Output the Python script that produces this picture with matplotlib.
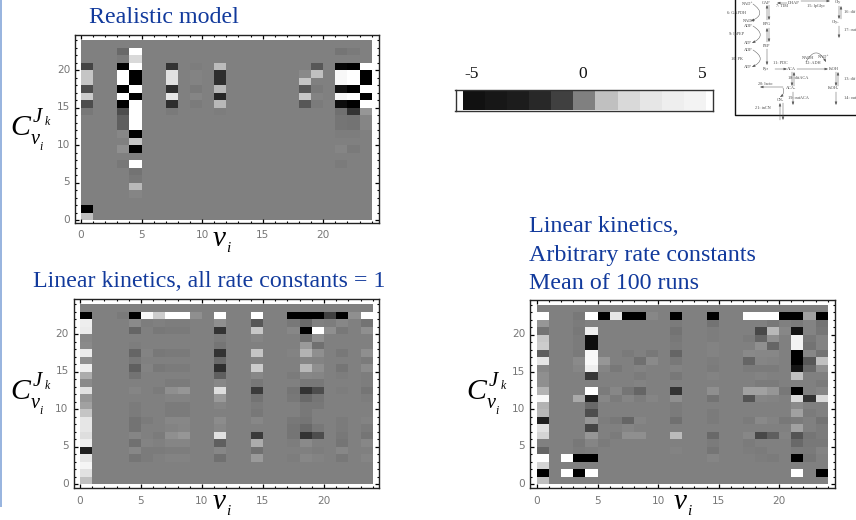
import numpy as np
import matplotlib
matplotlib.use("Agg")
import matplotlib.pyplot as plt
from matplotlib.colors import LinearSegmentedColormap
from matplotlib.ticker import MultipleLocator
from matplotlib.transforms import ScaledTranslation

W, H = 856, 520
SERIF = "Liberation Serif"
TITLE_C = "#123a9c"
N = 24

# Gray level of each non-neutral cell: {column: {row: gray}}; all other cells are 0.5
realistic = {
    0: {0: .75, 1: 0, 14: .45, 15: .3, 16: .8, 17: .3, 18: .77, 19: .77, 20: .27},
    3: {22: .38, 21: .47, 20: 0, 19: 1, 18: 1, 17: 0, 16: 1, 15: 0, 14: .3, 13: .35, 12: .35, 11: .55, 9: .6, 7: .45},
    4: {22: 1, 21: .85, 20: 1, 19: 0, 18: 0, 17: 1, 16: 0, 15: 1, 14: 1, 13: 1, 12: 1, 11: 0, 10: .77, 9: 0, 7: 1, 6: .42, 5: .45, 4: .72, 3: .53},
    7: {20: .2, 19: .88, 18: .88, 17: .18, 16: .9, 15: .18, 14: .46},
    9: {20: .48, 19: .52, 18: .52, 17: .46, 16: .53, 15: .47},
    11: {20: .73, 19: .18, 18: .18, 17: .72, 16: .15, 15: .72, 14: .48},
    18: {20: .5, 19: .56, 18: .77, 17: .33, 16: .78, 15: .33},
    19: {20: .33, 19: .75, 18: .5, 17: .46, 16: .52, 15: .47},
    21: {22: .43, 20: .02, 19: .97, 18: .97, 17: .07, 16: .97, 15: .05, 14: .4, 13: .43, 12: .43, 11: .48, 9: .53, 7: .47},
    22: {22: .46, 20: 0, 19: 1, 18: 1, 17: 0, 16: 1, 15: 0, 14: .2, 13: .42, 12: .42, 11: .48, 9: .46},
    23: {20: 1, 19: 0, 18: 0, 17: 1, 16: 0, 15: 1, 14: .62, 13: .53, 12: .53},
}

unit_rates = {
    0: {0: .75, 1: .88, 2: .96, 3: .9, 4: .12, 5: .93, 6: .87, 7: .9, 8: .9, 9: .77, 10: .65, 11: .62, 12: .88, 13: .57, 14: .68, 15: .93, 16: .6, 17: .92, 18: .57, 19: .55, 20: .92, 21: .93, 22: 0},
    3: {22: .46},
    4: {22: 0, 21: .57, 20: .37, 18: .48, 17: .37, 16: .45, 15: .35, 14: .42, 12: .53, 10: .47, 9: .47, 8: .42, 7: .42, 6: .53, 5: .4, 4: .55, 3: .43},
    5: {22: .97, 21: .48, 17: .52, 15: .52, 8: .47, 5: .52, 4: .47, 3: .47},
    6: {22: .8, 20: .45, 17: .45, 15: .45, 12: .47, 6: .47, 4: .47},
    7: {22: 1, 21: .48, 20: .46, 17: .46, 15: .47, 13: .47, 12: .6, 11: .52, 10: .47, 9: .47, 8: .55, 7: .52, 6: .6, 5: .53, 4: .48, 3: .52},
    8: {22: 1, 21: .48, 20: .46, 17: .46, 15: .47, 13: .47, 12: .62, 11: .52, 10: .47, 9: .47, 8: .55, 7: .54, 6: .62, 5: .53, 4: .48, 3: .52},
    9: {22: .6},
    11: {22: 1, 21: .6, 20: .2, 19: .47, 18: .43, 17: .2, 16: .38, 15: .18, 14: .35, 13: .55, 12: .87, 11: .63, 10: .53, 8: .58, 7: .55, 6: .88, 5: .35, 4: .55, 3: .4},
    14: {22: 1, 21: .33, 20: .78, 19: .53, 17: .77, 16: .52, 15: .8, 14: .55, 13: .45, 12: .23, 11: .42, 10: .47, 9: .45, 8: .55, 6: .23, 5: .68, 4: .4, 3: .63},
    17: {22: 0, 21: .45, 20: .55, 17: .52, 14: .47, 12: .43, 11: .45, 8: .45, 7: .43, 6: .43, 5: .48, 3: .48},
    18: {22: 0, 21: .38, 20: 0, 19: .4, 18: .63, 17: .7, 16: .53, 15: .72, 14: .55, 13: .45, 12: .2, 11: .38, 10: .45, 9: .45, 8: .43, 7: .38, 6: .2, 5: .57, 3: .55},
    19: {22: 0, 21: .5, 20: 1, 19: .6, 18: .4, 17: .6, 16: .52, 15: .6, 14: .53, 13: .45, 12: .3, 11: .43, 10: .45, 7: .45, 6: .3, 4: .48, 3: .52},
    20: {22: .25, 21: .48, 20: .6},
    21: {22: 0, 21: .55, 20: .45, 17: .45, 15: .43, 14: .48, 12: .48, 8: .47, 7: .47, 6: .45, 5: .43, 4: .55, 3: .45},
    22: {22: .6},
    23: {22: 1, 21: .42, 20: .6, 17: .6, 16: .47, 15: .58, 14: .48, 13: .48, 12: .43, 11: .48, 8: .52, 7: .47, 6: .43, 5: .55, 3: .53},
}

mean_runs = {
    0: {0: .75, 1: 0, 2: .83, 3: 1, 4: .37, 6: .83, 7: .88, 8: .12, 9: .72, 10: .7, 11: .97, 12: .7, 13: .6, 14: .6, 15: .55, 16: .9, 17: .35, 18: .8, 19: .78, 20: .42, 21: .62, 22: 1},
    2: {1: 1, 3: 1},
    3: {1: 0, 3: 0, 4: .47, 5: .45, 11: .67, 15: .54, 16: .57, 17: .46, 18: .47, 19: .47, 20: .45, 21: .47, 22: .45},
    4: {22: 1, 20: .93, 19: .05, 18: .05, 17: .97, 16: .97, 15: .93, 14: .22, 12: 1, 11: .12, 10: .38, 9: .3, 8: .62, 7: .27, 6: .62, 5: .53, 4: .48, 3: 0, 1: 1},
    5: {22: 0, 16: .62, 15: .53, 12: .47, 11: .55, 8: .48, 5: .47},
    6: {22: .9, 15: .45, 12: .55, 11: .47, 8: .45, 6: .47},
    7: {22: 0, 17: .46, 12: .43, 11: .53, 8: .37, 7: .53, 6: .6},
    8: {22: 0, 16: .4, 15: .52, 14: .47, 13: .52, 12: .37, 11: .48, 8: .53, 6: .6},
    9: {22: .55, 17: .45, 16: .57, 11: .53},
    11: {22: 0, 21: .47, 20: .42, 19: .45, 18: .47, 17: .37, 16: .45, 15: .52, 14: .45, 12: .2, 11: .6, 10: .47, 9: .47, 8: .4, 6: .73, 4: .52},
    14: {22: 0, 21: .42, 20: .48, 19: .48, 18: .52, 17: .52, 16: .48, 15: .47, 14: .52, 12: .6, 11: .42, 9: .47, 8: .47, 6: .38, 5: .47, 4: .43, 3: .53},
    17: {22: 1, 19: .47, 17: .56, 16: .37, 15: .47, 12: .65, 11: .32, 8: .47, 6: .55, 5: .47, 4: .48},
    18: {22: 1, 20: .28, 19: .37, 18: .6, 17: .55, 16: .53, 15: .47, 14: .52, 13: .47, 12: .65, 11: .53, 8: .56, 6: .28, 4: .47, 3: .48},
    19: {22: 1, 21: .45, 20: .72, 19: .6, 18: .37, 17: .55, 16: .52, 15: .47, 13: .47, 12: .62, 11: .52, 8: .52, 6: .35, 3: .47},
    20: {22: 0, 20: .55, 12: .45, 8: .45, 6: .52},
    21: {22: 0, 21: .47, 20: .08, 19: .95, 18: .95, 17: 0, 16: 0, 15: .08, 14: .75, 12: 0, 11: .85, 10: .57, 9: .65, 8: .47, 7: .65, 6: .32, 5: .38, 4: .47, 3: 0, 1: 1},
    22: {22: .65, 21: .52, 20: .52, 19: .45, 18: .42, 17: .55, 16: .33, 15: .38, 11: .2, 9: .47, 6: .43, 5: .45, 4: .46, 3: .44},
    23: {22: 0, 21: .42, 20: .44, 19: .52, 18: .52, 17: .42, 16: .75, 15: .6, 13: .46, 12: .53, 11: .85, 8: .42, 7: .47, 6: .47, 5: .45, 4: .52, 1: 0},
}

# Scale of the control coefficient legend
scale_values = [-5, -4, -3, -2, -1, 0, 1, 2, 3, 4, 5]
scale_gray = [.07, .09, .11, .16, .25, .5, .75, .85, .9, .93, .95]
scale_labels = ["-5", "0", "5"]
tick_values = [0, 5, 10, 15, 20]

# Faint cells stay close to the neutral gray, as on the source's response curve
CELL_CMAP = LinearSegmentedColormap.from_list(
    "cells",
    [(0, "#000000"), (.3, "#4d4d4d"), (.4, "#707070"), (.5, "#808080"),
     (.6, "#8f8f8f"), (.7, "#b3b3b3"), (1, "#ffffff")], N=512)


def grid(cells):
    m = np.full((N, N), 0.5)
    for col, rows in cells.items():
        for row, gray in rows.items():
            m[row, col] = gray
    return m


fig = plt.figure(figsize=(W / 100, H / 100), dpi=100, facecolor="white")
over = fig.add_axes([0, 0, 1, 1], zorder=5)
over.set_xlim(0, W)
over.set_ylim(H, 0)
over.axis("off")
over.patch.set_alpha(0)


def pixel_axes(x0, y0, x1, y1):
    return fig.add_axes([x0 / W, 1 - y1 / H, (x1 - x0) / W, (y1 - y0) / H])


def serif(x, y, s, size, italic=False, color="black", **kw):
    over.text(x, y, s, fontsize=size, family=SERIF, color=color, va="baseline", ha="left",
              style="italic" if italic else "normal", **kw)


def heat(cells, frame, data):
    fx0, fy0, fx1, fy1 = frame
    dx0, dy0, dx1, dy1 = data
    ax = pixel_axes(fx0, fy0, fx1, fy1)
    sx = (dx1 - dx0) / N
    sy = (dy1 - dy0) / N
    ax.set_xlim((fx0 - dx0) / sx, (fx1 - dx0) / sx)
    ax.set_ylim((dy1 - fy1) / sy, (dy1 - fy0) / sy)
    edges = np.arange(N + 1)
    ax.pcolormesh(edges, edges, grid(cells), cmap=CELL_CMAP, vmin=0, vmax=1,
                  shading="flat", antialiased=False, rasterized=True)
    ax.xaxis.set_minor_locator(MultipleLocator(1))
    ax.yaxis.set_minor_locator(MultipleLocator(1))
    ax.set_xticks(tick_values)
    ax.set_yticks(tick_values)
    ax.tick_params(axis="x", which="major", direction="in", top=True, length=3, width=.9,
                   color="black", labelsize=7.6, labelcolor="#777777", pad=5.5)
    ax.tick_params(axis="y", which="major", direction="in", right=True, length=3, width=.9,
                   color="black", labelsize=7.6, labelcolor="#777777", pad=3.5)
    ax.tick_params(which="minor", direction="in", top=True, right=True, length=1.5, width=.8, color="black")
    up = ScaledTranslation(0, 1 / 72, fig.dpi_scale_trans)
    for lab in ax.get_yticklabels():
        lab.set_transform(lab.get_transform() + up)
    for s in ax.spines.values():
        s.set_linewidth(1.0)
        s.set_color("#222222")
    return ax


# Heat maps
heat(realistic, (75, 35, 379, 222.5), (81, 40, 371.7, 220))
heat(unit_rates, (73.5, 299, 379, 488), (80, 304, 372.7, 484))
heat(mean_runs, (530, 300, 835, 488), (537, 305, 827.7, 484))

# Titles
serif(89.5, 23, "Realistic model", 17.3, color=TITLE_C)
serif(33, 287, "Linear kinetics, all rate constants = 1", 17.2, color=TITLE_C)
serif(529, 232, "Linear kinetics,", 17.3, color=TITLE_C)
serif(529, 260.5, "Arbitrary rate constants", 17.3, color=TITLE_C)
serif(529, 289, "Mean of 100 runs", 17.3, color=TITLE_C)


# Axis symbols
def coef(dx, dy):
    serif(10 + dx, 135 + dy, "C", 21.5, italic=True)
    serif(33 + dx, 122 + dy, "J", 15, italic=True)
    serif(44.5 + dx, 125 + dy, "k", 8.5, italic=True)
    serif(31 + dx, 143.5 + dy, "v", 14.5, italic=True)
    serif(39 + dx, 149.5 + dy, "i", 8.5, italic=True)


coef(0, 0)
coef(0, 264)
coef(456, 264)
for x, y in [(213, 246), (213, 509), (674, 509)]:
    serif(x, y, "v", 21, italic=True)
    serif(x + 13, y + 6, "i", 11, italic=True)

# Left edge rule
over.plot([0.7, 0.7], [0, 507], color="#7b9fd6", lw=1.1, solid_capstyle="butt")

# Colour scale
bar = pixel_axes(455.5, 90, 712.5, 110.5)
bar.imshow(np.array(scale_gray)[None, :], cmap="gray", vmin=0, vmax=1, aspect="auto",
           extent=(scale_values[0] - .5, scale_values[-1] + .5, 0, 1), interpolation="nearest")
bar.set_xlim(-5.5 - 7 / 22, 5.5 + 7.7 / 22)
bar.set_ylim(0, 1)
bar.set_xticks([])
bar.set_yticks([])
for s in bar.spines.values():
    s.set_linewidth(1.0)
    s.set_color("#333333")
for lab, x in zip(scale_labels, (472, 583, 702)):
    over.text(x, 74.5, lab, fontsize=12.5, family=SERIF, ha="center", va="center", color="#111111")

# Pathway thumbnail
over.plot([735, 735, 857], [0, 115, 115], color="#111111", lw=1.0, clip_on=False)
pathway_labels = [
    (748, 4, "NAD⁺"), (766, 2.5, "GAP"), (782, 6, "7: TIM"), (794, 2.5, "DHAP"), (816, 6, "15: lpGlyc"), (838, 2.5, "Gly"),
    (737, 13, "6: GAPDH"), (749, 21, "NADH"), (767, 24, "BPG"), (748, 26, "ADP"), (737, 34, "9: lpPEP"),
    (748, 43, "ATP"), (767, 46, "PEP"), (748, 50, "ADP"), (737, 59, "10: PK"), (748, 67, "ATP"),
    (766, 69, "Pyr"), (780, 63, "11: PDC"), (791, 69, "ACA"), (808, 58, "NADH"), (824, 57, "NAD⁺"),
    (813, 63, "12: ADH"), (834, 69, "EtOH"), (850, 12, "16: dif"), (836, 22, "Glyₓ"), (850, 30, "17: out"),
    (798, 78, "18: difACA"), (791, 88, "ACAₓ"), (765, 84, "20: lacto"), (833, 88, "EtOHₓ"), (850, 79, "13: dif"),
    (798, 98, "19: outACA"), (850, 98, "14: out"), (780, 100, "CNₓ"), (763, 108, "21: inCN"),
]
for x, y, s in pathway_labels:
    over.text(x, y, s, fontsize=3.1, family=[SERIF, "DejaVu Sans"], ha="center", va="center",
              color="#444444", clip_on=True)


def arrow(p, q, rad=0.0):
    over.annotate("", xy=q, xytext=p, annotation_clip=False,
                  arrowprops=dict(arrowstyle="-|>,head_width=.07,head_length=.18", lw=.35, color="#555555",
                                  connectionstyle=f"arc3,rad={rad}", shrinkA=0, shrinkB=0))


for p, q in [((767, 20), (767, 5)), ((769, 5), (769, 20)), ((767, 42), (767, 28)), ((769, 28), (769, 42)),
             ((767, 49), (767, 65)), ((775, 69), (787, 69)), ((797, 69), (828, 69)), ((787, 3), (777, 3)),
             ((801, 1), (830, 1)), ((839, 6), (839, 19)), ((841, 19), (841, 6)), ((839, 26), (839, 38)),
             ((792, 72), (792, 86)), ((794, 86), (794, 72)), ((836, 72), (836, 86)), ((838, 86), (838, 72)),
             ((793, 92), (793, 105)), ((836, 92), (836, 105)), ((780, 120), (780, 103)), ((783, 103), (783, 120)),
             ((783, 87), (760, 87))]:
    arrow(p, q)
for p, q in [((753, 4), (751, 21)), ((753, 26), (752, 43)), ((753, 50), (752, 67)), ((806, 62), (826, 62))]:
    arrow(p, q, rad=-.9)
arrow((783, 88), (780, 97), rad=-.4)

fig.savefig("out.png", dpi=100, facecolor="white")
